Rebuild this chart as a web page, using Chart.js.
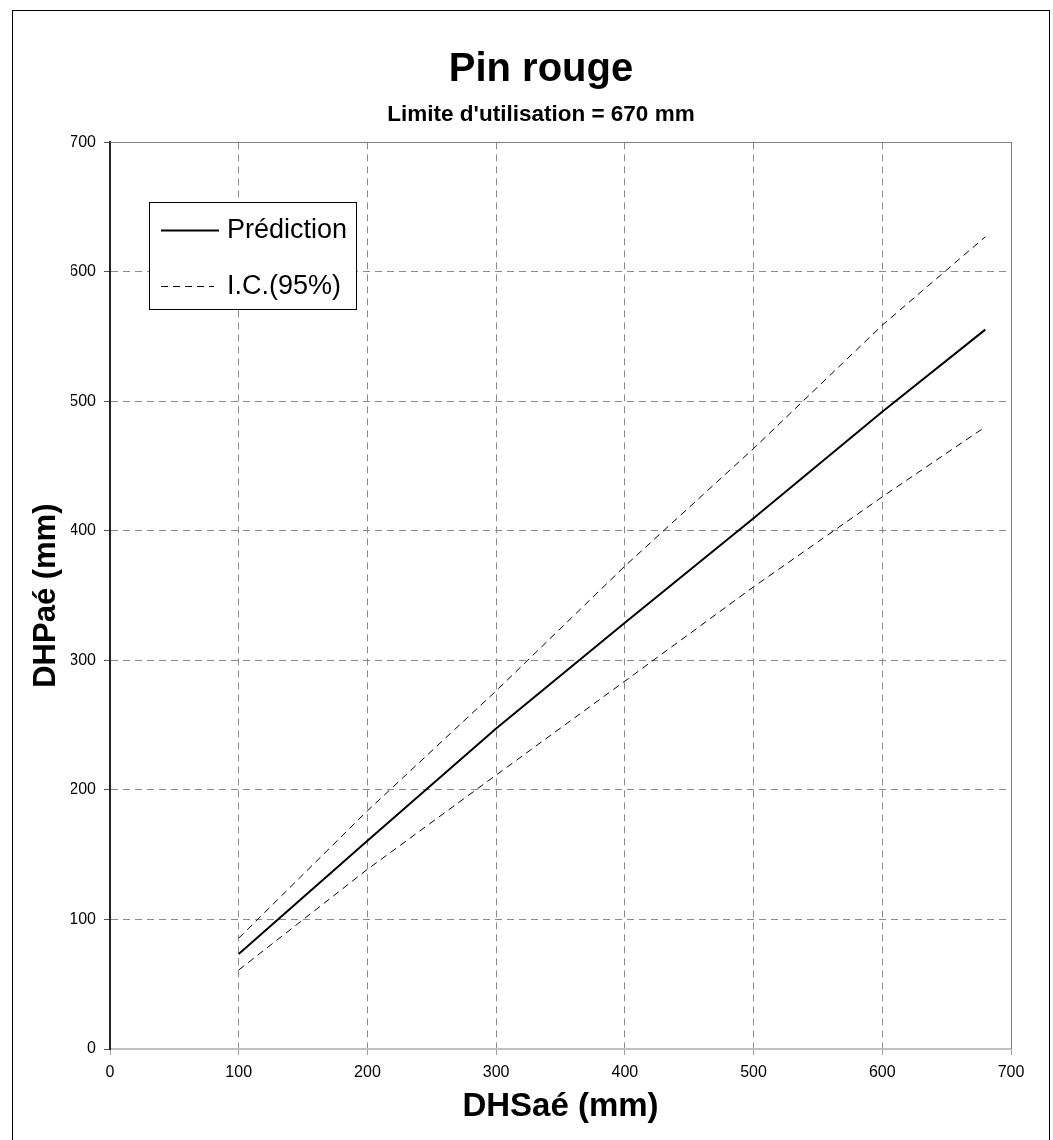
<!DOCTYPE html>
<html>
<head>
<meta charset="utf-8">
<script src="https://cdn.jsdelivr.net/npm/chart.js@4.4.1/dist/chart.umd.min.js"></script>
<style>
  html, body { margin: 0; padding: 0; background: #fff; overflow: hidden; }
  canvas { display: block; }
</style>
</head>
<body>
<canvas id="c" width="1053" height="1140"></canvas>
<script>
// ---- data ----
const xValues = [100, 200, 300, 400, 500, 600, 680];
const prediction = [73.3, 160.8, 247.5, 329.0, 409.8, 491.9, 555.4];
const ciUpper = [85.6, 183.9, 276.5, 372.8, 463.6, 558.8, 627.0];
const ciLower = [61.0, 138.7, 211.5, 284.0, 356.8, 426.3, 480.3];
const axisTicks = [0, 100, 200, 300, 400, 500, 600, 700];
const chartTitle = 'Pin rouge';
const chartSubtitle = "Limite d'utilisation = 670 mm";
const xTitle = 'DHSaé (mm)';
const yTitle = 'DHPaé (mm)';
const predLabel = 'Prédiction';
const ciLabel = 'I.C.(95%)';

const FONT = "'Liberation Sans', Arial, Helvetica, sans-serif";
Chart.defaults.font.family = FONT;
Chart.defaults.color = '#000';

const toPts = (ys) => xValues.map((x, i) => ({ x: x, y: ys[i] }));

const framePlugin = {
  id: 'frame',
  beforeDraw(chart) {
    const ctx = chart.ctx;
    ctx.save();
    ctx.fillStyle = '#fff';
    ctx.fillRect(0, 0, chart.width, chart.height);
    ctx.restore();
  },
  beforeDatasetsDraw(chart) {
    const { ctx, chartArea: a } = chart;
    ctx.save();
    ctx.strokeStyle = '#808080';
    ctx.lineWidth = 1;
    ctx.setLineDash([]);
    ctx.beginPath();
    ctx.moveTo(a.left, Math.round(a.top) + 0.5);
    ctx.lineTo(Math.round(a.right) + 0.5, Math.round(a.top) + 0.5);
    ctx.lineTo(Math.round(a.right) + 0.5, a.bottom);
    ctx.stroke();
    ctx.restore();
  },
  afterDraw(chart) {
    const ctx = chart.ctx;
    ctx.save();
    ctx.strokeStyle = '#000';
    ctx.lineWidth = 1;
    ctx.setLineDash([]);
    ctx.strokeRect(12.5, 10.5, 1037, 1200);
    // legend
    const bx = 149.5, by = 202.5, bw = 207, bh = 107;
    ctx.fillStyle = '#fff';
    ctx.fillRect(bx, by, bw, bh);
    ctx.strokeRect(bx, by, bw, bh);
    const ds = chart.data.datasets;
    const entries = [
      { d: ds[0], y: 230, x2: 219 },
      { d: ds[1], y: 286, x2: 214 }
    ];
    entries.forEach(e => {
      ctx.beginPath();
      ctx.strokeStyle = e.d.borderColor;
      ctx.lineWidth = e.d.borderWidth;
      ctx.setLineDash(e.d.borderDash || []);
      ctx.moveTo(161, e.y + 0.5);
      ctx.lineTo(e.x2, e.y + 0.5);
      ctx.stroke();
      ctx.setLineDash([]);
      ctx.fillStyle = '#000';
      ctx.font = '27px ' + FONT;
      ctx.textBaseline = 'middle';
      ctx.textAlign = 'left';
      ctx.fillText(e.d.label, 227, e.y + 1);
    });
    ctx.restore();
  }
};

new Chart(document.getElementById('c'), {
  type: 'line',
  data: {
    datasets: [
      { label: predLabel, data: toPts(prediction), borderColor: '#000', borderWidth: 2, pointRadius: 0, fill: false, tension: 0 },
      { label: ciLabel, data: toPts(ciUpper), borderColor: '#000', borderWidth: 1, borderDash: [7, 5], pointRadius: 0, fill: false, tension: 0 },
      { label: ciLabel, data: toPts(ciLower), borderColor: '#000', borderWidth: 1, borderDash: [7, 5], pointRadius: 0, fill: false, tension: 0 }
    ]
  },
  options: {
    responsive: false,
    animation: false,
    devicePixelRatio: 1,
    layout: { padding: { left: 71, right: 42, top: 10, bottom: 0 } },
    plugins: {
      legend: { display: false },
      tooltip: { enabled: false },
      title: {
        display: true, text: chartTitle, color: '#000',
        font: { size: 40, weight: 'bold', family: FONT },
        padding: { top: 36, bottom: 0 }
      },
      subtitle: {
        display: true, text: chartSubtitle, color: '#000',
        font: { size: 22.5, weight: 'bold', family: FONT },
        padding: { top: 6.8, bottom: 14.5 }
      }
    },
    scales: {
      x: {
        type: 'linear', min: 0, max: 700,
        afterFit: (s) => { s.height = 91; },
        afterBuildTicks: (s) => { s.ticks = axisTicks.map(v => ({ value: v })); },
        ticks: { color: '#000', font: { size: 16 }, padding: 8, maxRotation: 0 },
        grid: { color: '#8a8a8a', lineWidth: 1, tickLength: 6, tickColor: '#a0a0a0', tickBorderDash: [] },
        border: { display: true, color: '#c0c0c0', width: 2, dash: [7, 5] },
        title: { display: true, text: xTitle, color: '#000', font: { size: 33, weight: 'bold' }, padding: { top: 0, bottom: 13.2 } }
      },
      y: {
        type: 'linear', min: 0, max: 700,
        afterFit: (s) => { s.width = 39; },
        afterBuildTicks: (s) => { s.ticks = axisTicks.map(v => ({ value: v })); },
        ticks: { color: '#000', font: { size: 16 }, padding: 8 },
        grid: { color: '#8a8a8a', lineWidth: 1, tickLength: 6, tickColor: '#555', tickBorderDash: [] },
        border: { display: true, color: '#222', width: 2, dash: [7, 5] },
        title: { display: true, text: yTitle, color: '#000', font: { size: 31, weight: 'bold' }, padding: { top: -43.6, bottom: 0 } }
      }
    }
  },
  plugins: [framePlugin]
});
</script>
</body>
</html>
